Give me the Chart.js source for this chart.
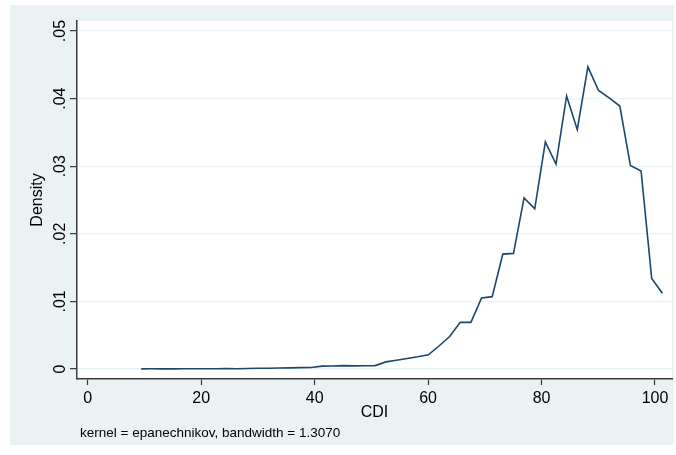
<!DOCTYPE html>
<html>
<head>
<meta charset="utf-8">
<script src="https://cdn.jsdelivr.net/npm/chart.js@4"></script>
<style>
  html, body { margin: 0; padding: 0; background: #ffffff; }
  #wrap { width: 676px; height: 455px; }
</style>
</head>
<body>
<div id="wrap"><canvas id="c" width="676" height="455"></canvas></div>
<script>
// Kernel density estimate of CDI, evaluated on 50 grid points
const cdi = [
  9.42, 11.30, 13.17, 15.05, 16.92, 18.80, 20.67, 22.55, 24.42, 26.30,
  28.17, 30.05, 31.92, 33.80, 35.67, 37.55, 39.42, 41.30, 43.17, 45.05,
  46.92, 48.80, 50.67, 52.55, 54.42, 56.30, 58.17, 60.05, 61.92, 63.80,
  65.67, 67.55, 69.42, 71.30, 73.17, 75.05, 76.92, 78.80, 80.67, 82.55,
  84.42, 86.30, 88.17, 90.05, 91.92, 93.80, 95.67, 97.55, 99.42, 101.30
];
const density = [
  0.00002, 0.00003, 0.00002, 0.00002, 0.00003, 0.00003, 0.00004, 0.00004, 0.00005, 0.00004,
  0.00008, 0.00010, 0.00012, 0.00014, 0.00016, 0.00020, 0.00022, 0.00042, 0.00045, 0.00050,
  0.00046, 0.00048, 0.00050, 0.00105, 0.00130, 0.00155, 0.00180, 0.00210, 0.00340, 0.00480,
  0.00690, 0.00690, 0.01050, 0.01070, 0.01700, 0.01710, 0.02530, 0.02370, 0.03360, 0.03030,
  0.04040, 0.03540, 0.04470, 0.04120, 0.04010, 0.03890, 0.03010, 0.02930, 0.01340, 0.01120
];
const xTicks = [0, 20, 40, 60, 80, 100];
const yTicks = [0, 0.01, 0.02, 0.03, 0.04, 0.05];
const xTitle = 'CDI';
const yTitle = 'Density';
const noteText = 'kernel = epanechnikov, bandwidth = 1.3070';

const FONT = '"Liberation Sans", Arial, sans-serif';
const FRAME = '#eaf2f3';
const INK = '#000000';
const AXIS = '#3a3a3a';

const fmtY = v => v === 0 ? '0' : v.toFixed(2).replace(/^0/, '');

// Outer graph region and white plot region
const backdrop = {
  id: 'backdrop',
  beforeDraw(chart) {
    const { ctx, chartArea: a } = chart;
    ctx.save();
    ctx.fillStyle = '#ffffff';
    ctx.fillRect(0, 0, chart.width, chart.height);
    ctx.fillStyle = FRAME;
    ctx.fillRect(10, 5, 664, 440);
    ctx.fillStyle = '#ffffff';
    ctx.fillRect(a.left, a.top, a.right - a.left, a.bottom - a.top);
    ctx.restore();
  }
};

// Rotated y tick labels and the footnote
const annotations = {
  id: 'annotations',
  afterDraw(chart) {
    const { ctx } = chart;
    const ys = chart.scales.y;
    ctx.save();
    ctx.fillStyle = INK;
    ctx.font = '16px ' + FONT;
    ctx.textAlign = 'center';
    ctx.textBaseline = 'alphabetic';
    yTicks.forEach(v => {
      const py = ys.getPixelForValue(v);
      ctx.save();
      ctx.translate(65, py);
      ctx.rotate(-Math.PI / 2);
      ctx.fillText(fmtY(v), 0, 0);
      ctx.restore();
    });
    ctx.font = '13.5px ' + FONT;
    ctx.textAlign = 'left';
    ctx.fillText(noteText, 80, 437);
    ctx.restore();
  }
};

new Chart(document.getElementById('c'), {
  type: 'line',
  data: {
    datasets: [{
      data: cdi.map((x, i) => ({ x, y: density[i] })),
      borderColor: '#1a476f',
      borderWidth: 1.6,
      pointRadius: 0,
      tension: 0,
      fill: false
    }]
  },
  options: {
    responsive: false,
    devicePixelRatio: 1,
    animation: false,
    layout: { padding: { left: 0, top: 21, right: 4, bottom: 0 } },
    plugins: { legend: { display: false }, tooltip: { enabled: false } },
    scales: {
      x: {
        type: 'linear',
        min: -1.9,
        max: 103.0,
        afterBuildTicks: s => { s.ticks = xTicks.map(v => ({ value: v })); },
        afterFit: s => { s.height = 76; },
        border: { display: true, color: AXIS, width: 1.5 },
        grid: { drawOnChartArea: false, color: 'rgba(0,0,0,0)', tickColor: AXIS, tickLength: 6, tickWidth: 1.2 },
        ticks: { color: INK, font: { family: FONT, size: 16 }, padding: 4, maxRotation: 0, autoSkip: false },
        title: { display: true, text: xTitle, color: INK, font: { family: FONT, size: 16 }, padding: { top: 0, bottom: 33 } }
      },
      y: {
        type: 'linear',
        min: -0.00148,
        max: 0.05148,
        afterBuildTicks: s => { s.ticks = yTicks.map(v => ({ value: v })); },
        afterFit: s => { s.width = 77; },
        border: { display: true, color: AXIS, width: 1.5 },
        grid: { color: FRAME, lineWidth: 1.2, tickColor: AXIS, tickLength: 7, tickWidth: 1.2 },
        ticks: { display: false },
        title: { display: true, text: yTitle, color: INK, font: { family: FONT, size: 16 }, padding: { top: 28, bottom: 0 } }
      }
    }
  },
  plugins: [backdrop, annotations]
});
</script>
</body>
</html>
